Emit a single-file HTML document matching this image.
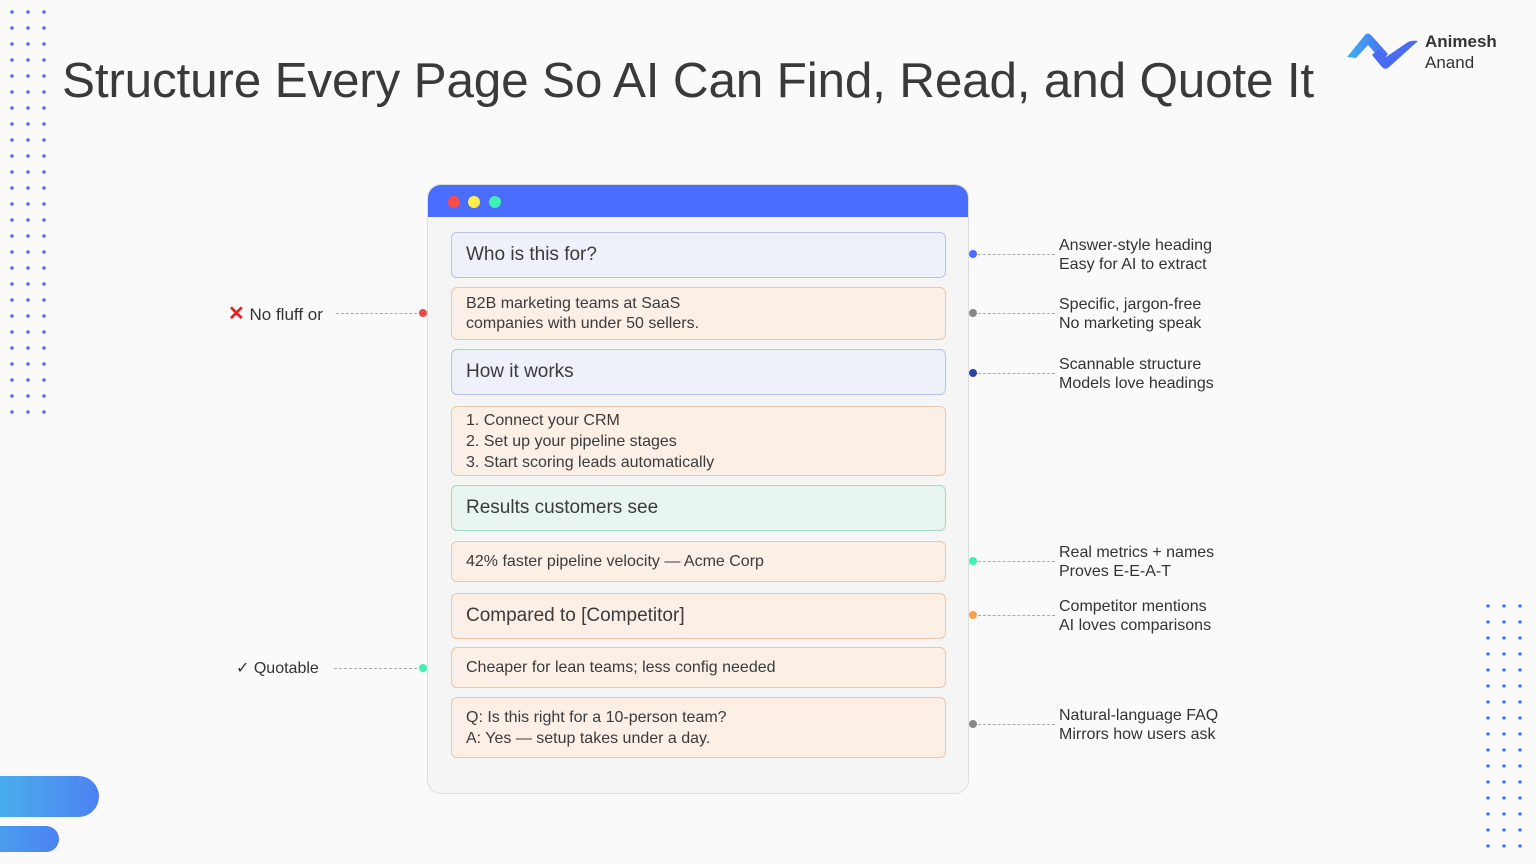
<!DOCTYPE html>
<html><head><meta charset="utf-8"><style>
*{margin:0;padding:0;box-sizing:border-box}
body{width:1536px;height:864px;background:#fafafb;font-family:"Liberation Sans",sans-serif;position:relative;overflow:hidden;color:#333}
.a{position:absolute}
h1{position:absolute;left:62px;top:52px;font-size:49.5px;font-weight:400;color:#3a3a3a;white-space:nowrap;letter-spacing:-0.2px}
.win{left:427px;top:184px;width:542px;height:610px;background:#f5f5f6;border:1px solid #ddd;border-radius:14px;overflow:hidden}
.bar{position:absolute;left:0;top:0;right:0;height:32px;background:#4a6cff}
.dot{position:absolute;top:11px;width:12px;height:12px;border-radius:50%}
.box{position:absolute;left:23px;width:495px;border-radius:6px;padding-left:14px;color:#3b3b3b;display:flex;flex-direction:column;justify-content:center}
.h{background:#eff1fa;border:1.5px solid #b8c1e6;font-size:19px}
.p{background:#fbefe6;border:1.5px solid #e8c7ad;font-size:16px;line-height:20px}
.g{background:#e8f5f0;border:1.5px solid #a8d8c2;font-size:19px}
.lbl{position:absolute;left:1059px;font-size:16px;line-height:19px;color:#333}
.ln{position:absolute;border-top:1px dashed #aaa;height:0}
.cd{position:absolute;width:8px;height:8px;border-radius:50%}
</style></head><body>
<div class="a" style="left:0;top:0;width:52px;height:420px;background-image:radial-gradient(circle,#4a7bff 1.6px,transparent 2px);background-size:16px 16px;background-position:4px 4px"></div>
<div class="a" style="left:1480px;top:598px;width:48px;height:256px;background-image:radial-gradient(circle,#4a7bff 1.6px,transparent 2px);background-size:16px 16px;background-position:0 0"></div>
<h1>Structure Every Page So AI Can Find, Read, and Quote It</h1>
<svg class="a" style="left:1346px;top:30px" width="74" height="42" viewBox="0 0 74 42"><defs><linearGradient id="lg" x1="0" x2="1"><stop offset="0" stop-color="#3fb0ee"/><stop offset="1" stop-color="#4a6cf5"/></linearGradient></defs><path d="M1 27 L19 5 Q22 2 25 5 L42 24 L36 31 L22 15 L10 28 Z" fill="url(#lg)"/><path d="M26 25 L33 19 L40 27 L62 12 Q66 10 72 11 L42 38 Q39 40 36 37 Z" fill="#4a6cf5"/></svg>
<div class="a" style="left:1425px;top:31px;font-size:17px;line-height:21px;color:#333"><b>Animesh</b><br>Anand</div>
<div class="a" style="left:-20px;top:776px;width:119px;height:41px;border-radius:21px;background:linear-gradient(90deg,#4ab6ea,#4c82f2)"></div>
<div class="a" style="left:-20px;top:826px;width:79px;height:26px;border-radius:13px;background:linear-gradient(90deg,#4aa6ea,#4c82f2)"></div>
<div class="a win">
<div class="bar"><div class="dot" style="left:20px;background:#ff4d4d"></div><div class="dot" style="left:40px;background:#ffee4d"></div><div class="dot" style="left:61px;background:#3ff0b4"></div></div>
<div class="box h" style="top:47px;height:46px">Who is this for?</div>
<div class="box p" style="top:102px;height:53px">B2B marketing teams at SaaS<br>companies with under 50 sellers.</div>
<div class="box h" style="top:164px;height:46px">How it works</div>
<div class="box p" style="top:221px;height:70px;line-height:21px">1. Connect your CRM<br>2. Set up your pipeline stages<br>3. Start scoring leads automatically</div>
<div class="box g" style="top:300px;height:46px">Results customers see</div>
<div class="box p" style="top:356px;height:41px">42% faster pipeline velocity — Acme Corp</div>
<div class="box p" style="top:408px;height:46px;font-size:19px">Compared to [Competitor]</div>
<div class="box p" style="top:462px;height:41px">Cheaper for lean teams; less config needed</div>
<div class="box p" style="top:512px;height:61px;line-height:21px">Q: Is this right for a 10-person team?<br>A: Yes — setup takes under a day.</div>
</div>
<div class="ln" style="left:973px;top:254px;width:82px"></div><div class="cd" style="left:969px;top:250px;background:#4a6cff"></div>
<div class="lbl" style="top:236px">Answer-style heading<br>Easy for AI to extract</div>
<div class="ln" style="left:973px;top:313px;width:82px"></div><div class="cd" style="left:969px;top:309px;background:#888"></div>
<div class="lbl" style="top:295px">Specific, jargon-free<br>No marketing speak</div>
<div class="ln" style="left:973px;top:373px;width:82px"></div><div class="cd" style="left:969px;top:369px;background:#2b44a8"></div>
<div class="lbl" style="top:355px">Scannable structure<br>Models love headings</div>
<div class="ln" style="left:973px;top:561px;width:82px"></div><div class="cd" style="left:969px;top:557px;background:#3ff0b4"></div>
<div class="lbl" style="top:543px">Real metrics + names<br>Proves E-E-A-T</div>
<div class="ln" style="left:973px;top:615px;width:82px"></div><div class="cd" style="left:969px;top:611px;background:#ffa04d"></div>
<div class="lbl" style="top:597px">Competitor mentions<br>AI loves comparisons</div>
<div class="ln" style="left:973px;top:724px;width:82px"></div><div class="cd" style="left:969px;top:720px;background:#888"></div>
<div class="lbl" style="top:706px">Natural-language FAQ<br>Mirrors how users ask</div>
<div class="a" style="left:228px;top:301px;font-size:17px;color:#333"><span style="color:#e82020;font-weight:bold;font-size:20px">✕</span> No fluff or</div>
<div class="ln" style="left:336px;top:313px;width:86px"></div><div class="cd" style="left:419px;top:309px;background:#e84a4a"></div>
<div class="a" style="left:236px;top:658px;font-size:16px;color:#333">✓ Quotable</div>
<div class="ln" style="left:334px;top:668px;width:88px"></div><div class="cd" style="left:419px;top:664px;background:#3ff0b4"></div>
</body></html>
